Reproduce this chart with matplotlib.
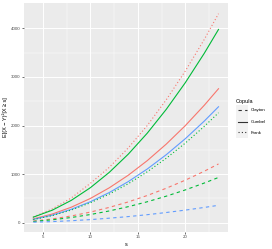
import matplotlib
matplotlib.use("Agg")
import matplotlib.pyplot as plt
from matplotlib.lines import Line2D
from matplotlib.patches import Rectangle

s = [4, 6, 8, 10, 12, 14, 16, 18, 20, 22, 23.5]

red_dotted   = [120, 285, 510, 810, 1140, 1540, 2000, 2530, 3120, 3770, 4300]
green_solid  = [115, 259, 461, 720, 1037, 1411, 1843, 2333, 2880, 3485, 3976]
red_solid    = [80, 180, 320, 499, 719, 978, 1278, 1618, 1997, 2416, 2757]
blue_solid   = [69, 156, 277, 432, 622, 847, 1106, 1400, 1728, 2091, 2386]
green_dotted = [66, 147, 262, 410, 590, 803, 1049, 1327, 1638, 1982, 2262]
red_dashed   = [35, 79, 140, 219, 316, 429, 561, 710, 876, 1060, 1210]
green_dashed = [27, 61, 108, 169, 243, 331, 432, 547, 675, 817, 932]
blue_dashed  = [12, 24, 42, 65, 94, 127, 166, 211, 260, 315, 359]

RED, GREEN, BLUE = "#F8766D", "#00BA38", "#619CFF"
copulas = ["Clayton", "Gumbel", "Frank"]
styles = {"Clayton": (0, (3, 3)), "Gumbel": "-", "Frank": (0, (1, 2))}

series = [
    (red_dotted, RED, "Frank"),
    (green_solid, GREEN, "Gumbel"),
    (red_solid, RED, "Gumbel"),
    (blue_solid, BLUE, "Gumbel"),
    (green_dotted, GREEN, "Frank"),
    (red_dashed, RED, "Clayton"),
    (green_dashed, GREEN, "Clayton"),
    (blue_dashed, BLUE, "Clayton"),
]

W, H = 272, 249
fig = plt.figure(figsize=(W / 100, H / 100), dpi=100)
plt.rcParams['font.family'] = ['Liberation Sans', 'DejaVu Sans']

L, R, T, B = 24, 228, 3, 232
ax = fig.add_axes([L / W, 1 - B / H, (R - L) / W, (B - T) / H])
ax.set_facecolor("#EBEBEB")
for sp in ax.spines.values():
    sp.set_visible(False)

for vals, col, cop in series:
    ax.plot(s, vals, color=col, linestyle=styles[cop], lw=0.8, zorder=3)

ax.set_xlim(3.02, 24.5)
ax.set_ylim(-190, 4520)
ax.set_xticks([5, 10, 15, 20])
ax.set_yticks([0, 1000, 2000, 3000, 4000])
ax.set_xticks([7.5, 12.5, 17.5, 22.5], minor=True)
ax.set_yticks([500, 1500, 2500, 3500], minor=True)
ax.grid(which="major", color="white", lw=0.7, zorder=0)
ax.grid(which="minor", color="white", lw=0.35, zorder=0)
ax.set_axisbelow(True)
ax.tick_params(which="major", length=1.5, width=0.5, color="#333333",
               labelsize=3.2, labelcolor="#4D4D4D", pad=1)
ax.tick_params(which="minor", length=0)
ax.set_xlabel("s", fontsize=4, labelpad=2)
ax.set_ylabel("E[(X − Y)²|X ≥ s]", fontsize=4, labelpad=2)

# legend
fig.text(236 / W, 1 - 101 / H, "Copula", fontsize=4, va="center", ha="left")
ys = [110.5, 121.5, 132.5]
for cop, yy in zip(copulas, ys):
    fig.patches.append(Rectangle((236 / W, 1 - (yy + 5.5) / H), 12 / W, 11 / H,
                                 transform=fig.transFigure, facecolor="#F2F2F2",
                                 edgecolor="none"))
    fig.lines.append(Line2D([237.5 / W, 246.5 / W], [1 - yy / H, 1 - yy / H],
                            transform=fig.transFigure, color="#333333",
                            linestyle=styles[cop], lw=0.8))
    fig.text(251 / W, 1 - yy / H, cop, fontsize=3.2, va="center", ha="left")

fig.savefig("out.png", dpi=100)
